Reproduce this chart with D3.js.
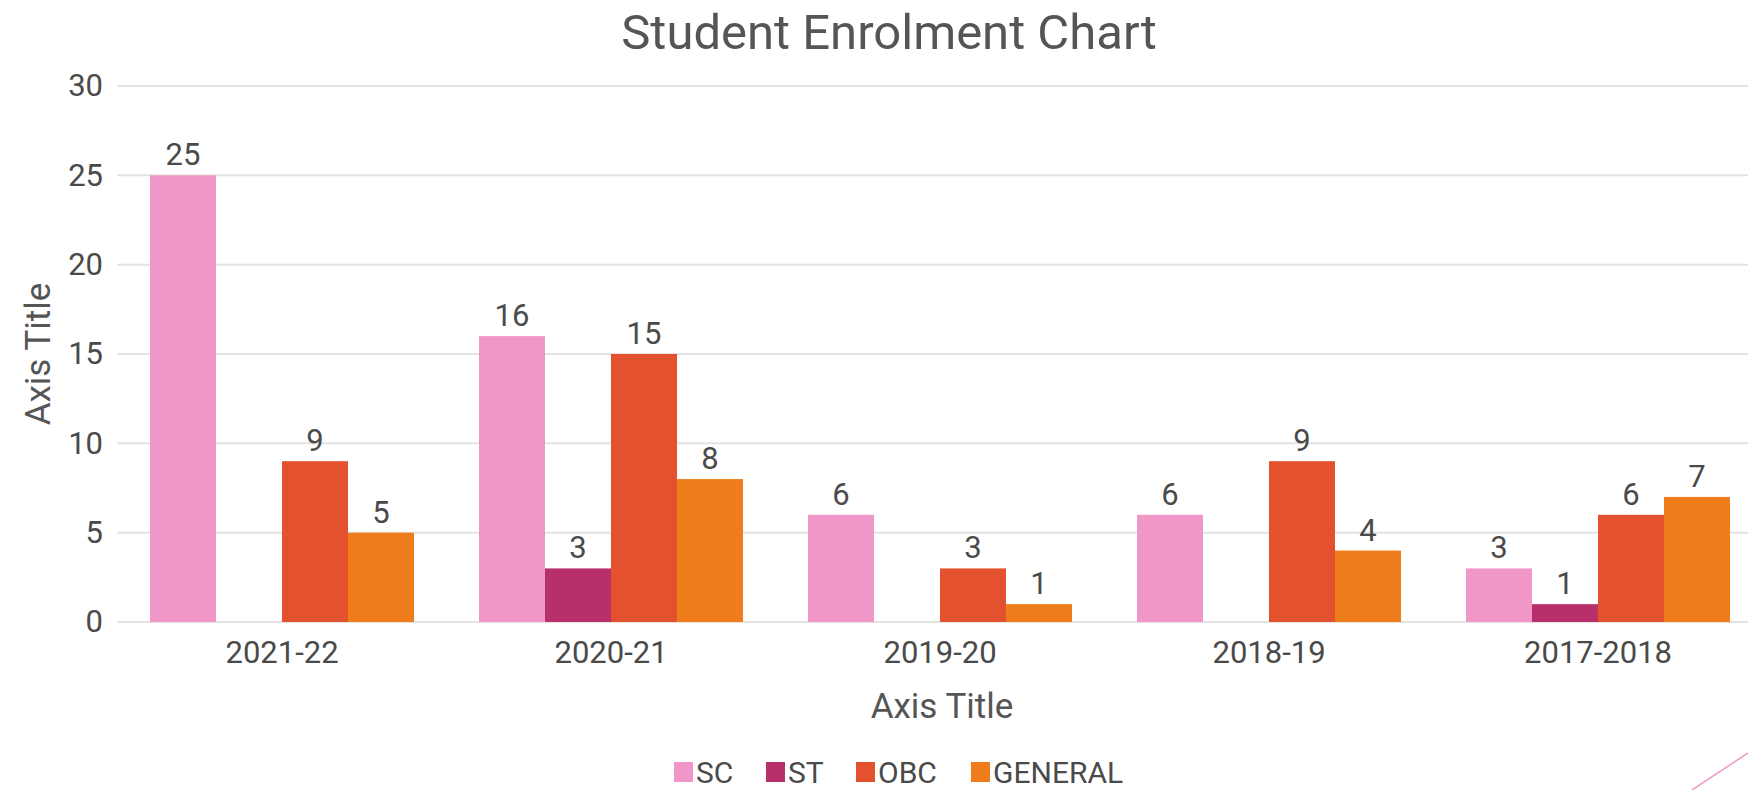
<html>
<head>
    <title>Student Enrolment Chart</title>
    <script src="https://d3js.org/d3.v7.min.js"></script>
    <style>
        body { margin: 0; background: #fff; }
        text { font-family: Roboto, "Noto Sans", sans-serif; }
    </style>
</head>
<body>
    <div id="chart"></div>
    <script type="text/javascript">
    // data
    var years = ["2021-22", "2020-21", "2019-20", "2018-19", "2017-2018"];
    var seriesNames = ["SC", "ST", "OBC", "GENERAL"];
    var scValues = [25, 16, 6, 6, 3];
    var stValues = [0, 3, 0, 0, 1];
    var obcValues = [9, 15, 3, 9, 6];
    var generalValues = [5, 8, 1, 4, 7];
    var yTicks = [0, 5, 10, 15, 20, 25, 30];
    var colors = ["#f097c8", "#b8306b", "#e4512e", "#ef7d1b"];

    var allValues = [scValues, stValues, obcValues, generalValues];

    var width = 1748, height = 790;
    var plot = { left: 117.5, right: 1762.5, top: 86, bottom: 622 };
    var labelSize = 31;

    var svg = d3.select("#chart").append("svg")
        .attr("width", width)
        .attr("height", height);

    var xScale = d3.scaleBand()
        .domain(years)
        .range([plot.left, plot.right]);

    // bars inside a group, leaving a gap around each group
    var xInner = d3.scaleBand()
        .domain(seriesNames)
        .range([32.5, xScale.bandwidth() - 32.5]);

    var yScale = d3.scaleLinear()
        .domain([0, 30])
        .range([plot.bottom, plot.top]);

    // gridlines
    svg.append("g")
        .selectAll("line")
        .data(yTicks)
        .enter()
        .append("line")
        .attr("x1", plot.left)
        .attr("x2", width)
        .attr("y1", function(d) { return yScale(d); })
        .attr("y2", function(d) { return yScale(d); })
        .attr("stroke", "#e3e3e3")
        .attr("stroke-width", 2);

    // y axis
    var yAxis = svg.append("g")
        .attr("transform", "translate(103,0)")
        .call(d3.axisLeft(yScale).tickValues(yTicks).tickSize(0).tickPadding(0));
    yAxis.select(".domain").remove();
    yAxis.selectAll("text")
        .attr("font-size", labelSize)
        .attr("fill", "#4a4a4a")
        .style("font-family", "Roboto");

    // bars
    var groups = svg.append("g")
        .selectAll("g")
        .data(years)
        .enter()
        .append("g")
        .attr("transform", function(d) { return "translate(" + xScale(d) + ",0)"; });

    groups.selectAll("rect")
        .data(function(d, i) {
            return seriesNames.map(function(s, j) { return { name: s, value: allValues[j][i], color: colors[j] }; });
        })
        .enter()
        .append("rect")
        .attr("x", function(d) { return xInner(d.name); })
        .attr("width", xInner.bandwidth())
        .attr("y", function(d) { return yScale(d.value); })
        .attr("height", function(d) { return plot.bottom - yScale(d.value); })
        .attr("fill", function(d) { return d.color; });

    // value labels
    groups.selectAll(".val")
        .data(function(d, i) {
            return seriesNames.map(function(s, j) { return { name: s, value: allValues[j][i] }; })
                .filter(function(d) { return d.value > 0; });
        })
        .enter()
        .append("text")
        .attr("class", "val")
        .attr("x", function(d) { return xInner(d.name) + xInner.bandwidth() / 2; })
        .attr("y", function(d) { return yScale(d.value) - 10; })
        .attr("text-anchor", "middle")
        .attr("font-size", labelSize)
        .attr("fill", "#4a4a4a")
        .text(function(d) { return d.value; });

    // x axis labels
    var xAxis = svg.append("g")
        .attr("transform", "translate(0," + plot.bottom + ")")
        .call(d3.axisBottom(xScale).tickSize(0).tickPadding(19));
    xAxis.select(".domain").remove();
    xAxis.selectAll("text")
        .attr("font-size", labelSize)
        .attr("fill", "#4a4a4a")
        .style("font-family", "Roboto");

    // title
    svg.append("text")
        .text("Student Enrolment Chart")
        .attr("x", 889)
        .attr("y", 49)
        .attr("text-anchor", "middle")
        .attr("font-size", 49)
        .attr("fill", "#555");

    // axis titles
    svg.append("text")
        .text("Axis Title")
        .attr("x", 942)
        .attr("y", 718)
        .attr("text-anchor", "middle")
        .attr("font-size", 35)
        .attr("fill", "#555");

    svg.append("text")
        .text("Axis Title")
        .attr("transform", "translate(50," + ((plot.top + plot.bottom) / 2) + ") rotate(-90)")
        .attr("text-anchor", "middle")
        .attr("font-size", 35)
        .attr("fill", "#555");

    // legend
    var legendX = [674, 766, 856, 971];
    var legend = svg.append("g")
        .selectAll("g")
        .data(seriesNames)
        .enter()
        .append("g")
        .attr("transform", function(d, i) { return "translate(" + legendX[i] + ",762)"; });
    legend.append("rect")
        .attr("width", 19)
        .attr("height", 20)
        .attr("fill", function(d, i) { return colors[i]; });
    legend.append("text")
        .attr("x", 22)
        .attr("y", 21)
        .attr("font-size", 30)
        .attr("fill", "#4a4a4a")
        .text(function(d) { return d; });

    // slide decoration in the corner
    svg.append("line")
        .attr("x1", 1692).attr("y1", 790)
        .attr("x2", 1748).attr("y2", 753)
        .attr("stroke", "#f09ac8")
        .attr("stroke-width", 1.5);
    </script>
</body>
</html>
